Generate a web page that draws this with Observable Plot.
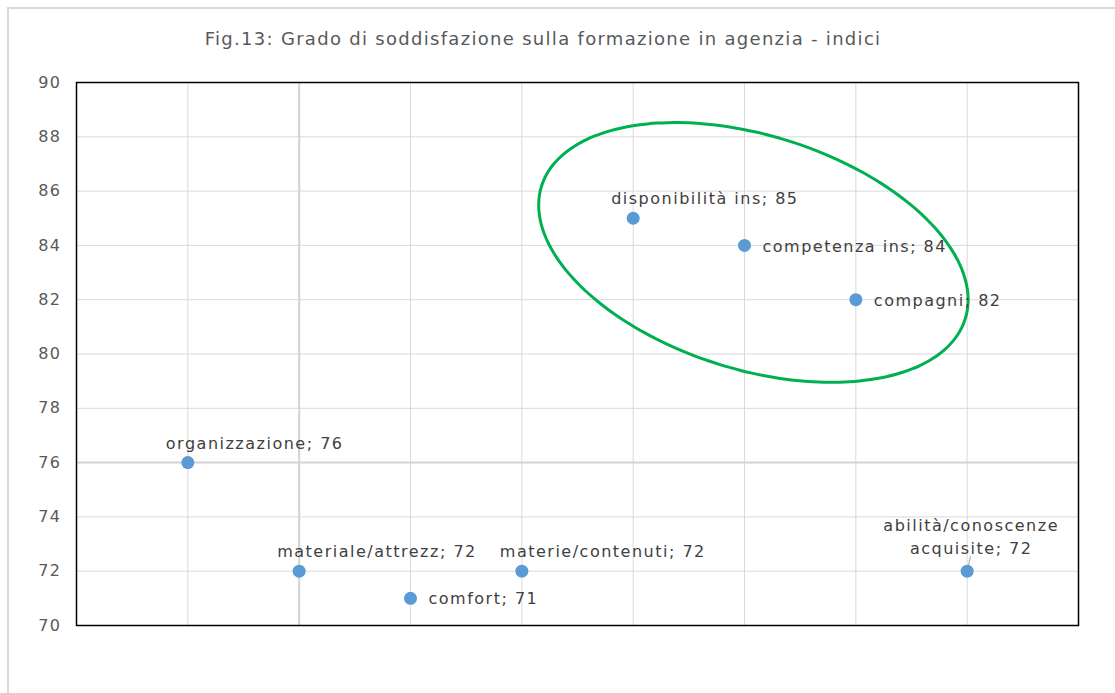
<!DOCTYPE html>
<html>
<head>
<meta charset="utf-8">
<script src="https://cdn.jsdelivr.net/npm/d3@7"></script>
<script src="https://cdn.jsdelivr.net/npm/@observablehq/plot@0.6"></script>
<style>
  html, body { margin: 0; padding: 0; background: #fff; width: 1115px; height: 693px; overflow: hidden; }
  #box { position: absolute; left: 7px; top: 7px; width: 1200px; height: 800px;
         border-left: 2px solid #d9d9d9; border-top: 2px solid #d9d9d9; }
  #title { position: absolute; left: 0; top: 28px; width: 1086px; text-align: center;
           font-family: "DejaVu Sans"; font-size: 18px; letter-spacing: 1.3px; color: #595959; }
  #chart { position: absolute; left: 0; top: 60px; }
</style>
</head>
<body>
<div id="box"></div>
<div id="title">Fig.13: Grado di soddisfazione sulla formazione in agenzia - indici</div>
<div id="chart"></div>
<script>
const categories = ["organizzazione", "materiale/attrezz", "comfort", "materie/contenuti",
  "disponibilità ins", "competenza ins", "compagni", "abilità/conoscenze acquisite"];
const values = [76, 72, 71, 72, 85, 84, 82, 72];
const yTicks = [70, 72, 74, 76, 78, 80, 82, 84, 86, 88, 90];
const xGrid = [1, 2, 3, 4, 5, 6, 7, 8];

const data = categories.map((c, i) => ({x: i + 1, y: values[i], name: c}));
const rightLabels = new Set(["comfort", "competenza ins", "compagni"]);
const wrapped = new Set(["abilità/conoscenze acquisite"]);
const above = data.filter(d => !rightLabels.has(d.name) && !wrapped.has(d.name));
const right = data.filter(d => rightLabels.has(d.name));
const wrap = data.filter(d => wrapped.has(d.name));

// highlight ellipse annotation (pixel-space rotated ellipse around the top group)
const W = 1115, H = 600, mL = 76, mR = 37, mT = 22, mB = 35;
const pxPerX = (W - mL - mR) / 9, pxPerY = (H - mT - mB) / 20;
const ell = {cx: 6.08, cy: 83.74, a: 222, b: 117, theta: 17.4 * Math.PI / 180};
const ellipse = d3.range(0, 361, 3).map(deg => {
  const t = deg * Math.PI / 180;
  const dx = ell.a * Math.cos(ell.theta) * Math.cos(t) - ell.b * Math.sin(ell.theta) * Math.sin(t);
  const dy = ell.a * Math.sin(ell.theta) * Math.cos(t) + ell.b * Math.cos(ell.theta) * Math.sin(t);
  return {x: ell.cx + dx / pxPerX, y: ell.cy - dy / pxPerY};
});

const font = "'DejaVu Sans'";
const chart = Plot.plot({
  width: W, height: H,
  marginLeft: mL, marginRight: mR, marginTop: mT, marginBottom: mB,
  style: {fontFamily: font, background: "transparent", overflow: "visible", letterSpacing: "1.5px"},
  x: {domain: [0, 9], axis: null},
  y: {domain: [70, 90], axis: null},
  marks: [
    Plot.ruleX(xGrid, {stroke: "#d9d9d9", strokeWidth: 1, strokeOpacity: 1}),
    Plot.ruleY(yTicks, {stroke: "#d9d9d9", strokeWidth: 1, strokeOpacity: 1}),
    Plot.ruleX([2], {stroke: "#d4d4d4", strokeWidth: 2}),
    Plot.ruleY([76], {stroke: "#d4d4d4", strokeWidth: 2}),
    Plot.axisY(yTicks, {tickSize: 0, tickPadding: 15, fontSize: 16, fill: "#595959", tickFormat: d => d, label: null}),
    Plot.frame({stroke: "#000", strokeWidth: 1.5}),
    Plot.line(ellipse, {x: "x", y: "y", stroke: "#00b050", strokeWidth: 3, curve: "catmull-rom"}),
    Plot.link(wrap, {x1: "x", y1: "y", x2: d => d.x + 0.03, y2: d => d.y + 0.55, stroke: "#a6a6a6", strokeWidth: 1}),
    Plot.dot(data, {x: "x", y: "y", r: 6.5, fill: "#5b9bd5", stroke: "none"}),
    Plot.text(above, {x: "x", y: "y", text: d => `${d.name}; ${d.y}`, textAnchor: "start", dx: -22, dy: -19,
      fontSize: 16, fill: "#404040"}),
    Plot.text(right, {x: "x", y: "y", text: d => `${d.name}; ${d.y}`, textAnchor: "start", dx: 18, dy: 1,
      fontSize: 16, fill: "#404040"}),
    Plot.text(wrap, {x: "x", y: "y", text: d => `abilità/conoscenze\nacquisite; ${d.y}`, textAnchor: "middle",
      dx: 4, dy: -36, lineHeight: 1.4, fontSize: 16, fill: "#404040"})
  ]
});
document.getElementById("chart").appendChild(chart);
</script>
</body>
</html>
